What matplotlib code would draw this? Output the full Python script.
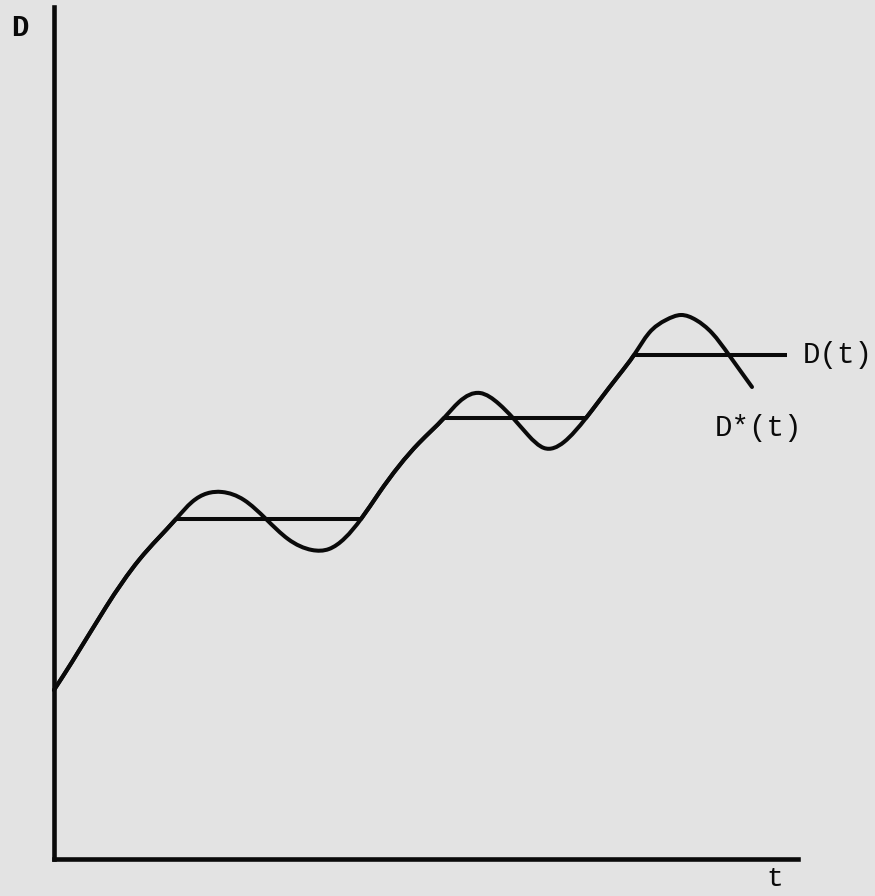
import numpy as np
import matplotlib.pyplot as plt
from matplotlib.path import Path
from matplotlib.patches import PathPatch

# points (t, D), arbitrary units
rise1_t = [0.0, 1.8, 5.2, 8.5, 12.2]
rise1_d = [16.9, 19.7, 25.2, 29.9, 34.0]
rise2_t = [30.7, 32.5, 36.5, 39.0]
rise2_d = [34.0, 36.6, 41.6, 44.1]
rise3_t = [53.2, 54.5, 56.5, 58.0]
rise3_d = [44.1, 45.8, 48.4, 50.4]

# flat levels of D(t): start, end, level
flat_start = [12.2, 39.0, 58.0]
flat_end = [30.7, 53.2, 73.3]
flat_level = [34.0, 44.1, 50.4]

# D*(t) swings around each flat level
osc1_t = [13.8, 16.8, 19.0, 21.2, 23.4, 25.8, 27.5]
osc1_d = [35.7, 36.7, 35.9, 34.0, 32.0, 30.9, 31.0]
osc2_t = [40.5, 42.6, 44.5, 45.9, 47.4, 49.0, 51.0]
osc2_d = [45.7, 46.6, 45.5, 44.1, 42.4, 41.1, 41.7]
osc3_t = [59.5, 61.2, 62.7, 64.2, 65.8, 67.5, 69.8]
osc3_d = [52.6, 53.9, 54.4, 53.9, 52.6, 50.4, 47.2]

BG = '#e3e3e3'
INK = '#0a0a0a'
LW = 2.9


def spline_slopes(x, y):
    # natural cubic spline, slope at every knot
    n = len(x)
    h = np.diff(x)
    d = np.diff(y) / h
    A = np.zeros((n, n))
    r = np.zeros(n)
    A[0, 0] = A[-1, -1] = 1
    for i in range(1, n - 1):
        A[i, i - 1] = h[i - 1]
        A[i, i] = 2 * (h[i - 1] + h[i])
        A[i, i + 1] = h[i]
        r[i] = 6 * (d[i] - d[i - 1])
    M = np.linalg.solve(A, r)
    m = np.empty(n)
    m[:-1] = d - h * (2 * M[:-1] + M[1:]) / 6
    m[-1] = d[-1] + h[-1] * (M[-2] + 2 * M[-1]) / 6
    return m


def bezier_path(x, y, m, i0, i1):
    verts = [(x[i0], y[i0])]
    codes = [Path.MOVETO]
    for k in range(i0, i1):
        h = x[k + 1] - x[k]
        verts += [(x[k] + h / 3, y[k] + m[k] * h / 3),
                  (x[k + 1] - h / 3, y[k + 1] - m[k + 1] * h / 3),
                  (x[k + 1], y[k + 1])]
        codes += [Path.CURVE4] * 3
    return Path(verts, codes)


fig = plt.figure(figsize=(8.75, 8.96), dpi=100, facecolor=BG)
ax = fig.add_axes([54 / 875, 37 / 896, 744 / 875, 852 / 896])
ax.set_facecolor(BG)
ax.set_xlim(0, 74.4)
ax.set_ylim(0, 85.2)
ax.set_xticks([])
ax.set_yticks([])
for s in ['top', 'right']:
    ax.spines[s].set_visible(False)
for s in ['left', 'bottom']:
    ax.spines[s].set_linewidth(3.3)
    ax.spines[s].set_color(INK)
    ax.spines[s].set_capstyle('projecting')

# D*(t): one smooth curve through everything
pieces = [(rise1_t, rise1_d), (osc1_t, osc1_d), (rise2_t, rise2_d),
          (osc2_t, osc2_d), (rise3_t, rise3_d), (osc3_t, osc3_d)]
ds_t = np.array(sum([p[0] for p in pieces], []), float)
ds_d = np.array(sum([p[1] for p in pieces], []), float)
slopes = spline_slopes(ds_t, ds_d)
ax.add_patch(PathPatch(bezier_path(ds_t, ds_d, slopes, 0, len(ds_t) - 1),
                       fill=False, ec=INK, lw=LW, capstyle='round',
                       joinstyle='round', clip_on=False))

# D(t): the rising parts (same curve as D*) plus flat pieces
start = 0
for k, (pt, pd) in enumerate(pieces):
    if k % 2 == 0:
        ax.add_patch(PathPatch(bezier_path(ds_t, ds_d, slopes, start, start + len(pt) - 1),
                               fill=False, ec=INK, lw=LW, capstyle='round',
                               clip_on=False))
    start += len(pt)
ax.hlines(flat_level, flat_start, flat_end, color=INK, lw=LW, clip_on=False)

mono = 'Liberation Mono'
ax.text(74.9, flat_level[-1], 'D(t)', family=mono, fontsize=21,
        ha='left', va='center', color=INK)
ax.text(66.1, 43.1, 'D*(t)', family=mono, fontsize=21,
        ha='left', va='center', color=INK)
fig.text(20 / 875, 1 - 28 / 896, 'D', family=mono, fontsize=21,
         fontweight='bold', ha='center', va='center', color=INK)
fig.text(775 / 875, 1 - 892 / 896, 't', family=mono, fontsize=20,
         ha='center', va='bottom', color=INK)

fig.savefig('out.png', dpi=100, facecolor=BG)
